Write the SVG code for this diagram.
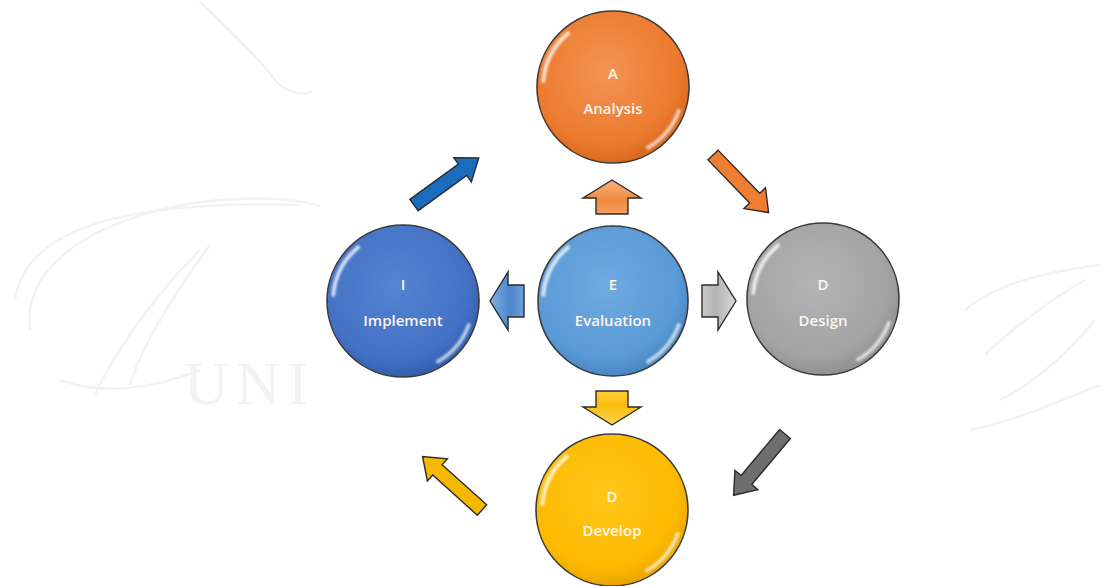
<svg xmlns="http://www.w3.org/2000/svg" xmlns:xlink="http://www.w3.org/1999/xlink" width="1103" height="586" viewBox="0 0 1103 586">
<style>
.lbl{font-family:"Open Sans","Liberation Sans",sans-serif;font-size:15px;font-weight:600;fill:#fdf6ee;text-anchor:middle}
.ring{stroke:#3a3a3a;stroke-width:1.6}
.wm{fill:none;stroke:#f0f4f0;stroke-width:2.5}
.arr{stroke:#2b2b2b;stroke-width:1.4;stroke-linejoin:miter}
</style>
<defs>
<radialGradient id="gA" cx="45%" cy="40%" r="60%"><stop offset="0" stop-color="#f39455"/><stop offset="0.8" stop-color="#ec7a2e"/><stop offset="1" stop-color="#d8691f"/></radialGradient>
<radialGradient id="gE" cx="45%" cy="40%" r="60%"><stop offset="0" stop-color="#70aae0"/><stop offset="0.8" stop-color="#5a9ad6"/><stop offset="1" stop-color="#4886c4"/></radialGradient>
<radialGradient id="gI" cx="45%" cy="40%" r="60%"><stop offset="0" stop-color="#5584d2"/><stop offset="0.8" stop-color="#4371c4"/><stop offset="1" stop-color="#345fae"/></radialGradient>
<radialGradient id="gD" cx="45%" cy="40%" r="60%"><stop offset="0" stop-color="#b4b4b4"/><stop offset="0.8" stop-color="#a3a3a3"/><stop offset="1" stop-color="#909090"/></radialGradient>
<radialGradient id="gV" cx="45%" cy="40%" r="60%"><stop offset="0" stop-color="#ffc61a"/><stop offset="0.8" stop-color="#fdba00"/><stop offset="1" stop-color="#eaa500"/></radialGradient>
<linearGradient id="sUp" x1="0" y1="0" x2="0" y2="1"><stop offset="0" stop-color="#f7b27a"/><stop offset="0.6" stop-color="#f0883f"/><stop offset="1" stop-color="#f4a060"/></linearGradient>
<linearGradient id="sL" x1="0" y1="0" x2="0" y2="1"><stop offset="0" stop-color="#7eaee0"/><stop offset="0.6" stop-color="#4d86cc"/><stop offset="1" stop-color="#6f9fd8"/></linearGradient>
<linearGradient id="sR" x1="0" y1="0" x2="0" y2="1"><stop offset="0" stop-color="#d9d9d9"/><stop offset="0.6" stop-color="#b2b2b2"/><stop offset="1" stop-color="#c9c9c9"/></linearGradient>
<linearGradient id="sD" x1="0" y1="0" x2="0" y2="1"><stop offset="0" stop-color="#ffd54a"/><stop offset="0.6" stop-color="#fbbd10"/><stop offset="1" stop-color="#ffcf3a"/></linearGradient>
<filter id="soft" x="-20%" y="-20%" width="140%" height="140%"><feGaussianBlur stdDeviation="1.2"/></filter>
<g id="gloss" filter="url(#soft)" fill="none" stroke="#ffffff" stroke-linecap="round">
<path d="M -69.7 -6.1 A 70 70 0 0 1 -45 -53.6" stroke-width="4" stroke-opacity="0.75"/>
<path d="M 65.8 23.9 A 70 70 0 0 1 35 60.6" stroke-width="4" stroke-opacity="0.65"/>
</g>
<path id="small" d="M 0 0 L 29 18 L 16 18 L 16 34 L -16 34 L -16 18 L -29 18 Z"/>
<path id="diag" d="M 0 -7 L 60 -7 L 60 -15 L 80 0 L 60 15 L 60 7 L 0 7 Z"/>
</defs>
<rect width="1103" height="586" fill="#ffffff"/>
<g id="watermark">
<path class="wm" d="M 200 2 C 230 30 260 60 275 80 C 285 92 300 96 312 92"/>
<path class="wm" d="M 30 330 C 20 260 110 210 220 200 C 270 196 300 200 320 206"/>
<path class="wm" d="M 15 300 C 25 230 120 200 300 205"/>
<path class="wm" d="M 200 250 C 150 300 110 360 95 395 M 210 245 C 170 300 140 350 130 385"/>
<path class="wm" d="M 60 380 C 100 395 150 390 200 370"/>
<path class="wm" d="M 965 310 C 1000 280 1060 270 1100 265 M 985 355 C 1010 330 1050 300 1085 280 M 1000 400 C 1040 380 1070 350 1095 320 M 970 430 C 1020 420 1060 400 1100 385"/>
<text x="184" y="404" font-family="'Liberation Serif',serif" font-size="62" fill="#f0f3f0" letter-spacing="7">UNI</text>
</g>
<g id="connectors">
<use href="#diag" transform="translate(414 205) rotate(-36)" fill="#1a6cbf" class="arr"/>
<use href="#diag" transform="translate(713 155) rotate(46)" fill="#ef7d32" class="arr"/>
<use href="#diag" transform="translate(785 434) rotate(130)" fill="#6e6e6e" class="arr"/>
<use href="#diag" transform="translate(482 510) rotate(222)" fill="#f5b800" class="arr"/>
<use href="#small" transform="translate(612 180)" fill="url(#sUp)" class="arr"/>
<use href="#small" transform="translate(490 301) rotate(-90)" fill="url(#sL)" class="arr"/>
<use href="#small" transform="translate(736 301) rotate(90)" fill="url(#sR)" class="arr"/>
<use href="#small" transform="translate(612 425) rotate(180)" fill="url(#sD)" class="arr"/>
</g>
<g id="node-analysis">
<circle cx="613" cy="87" r="76" fill="url(#gA)" class="ring"/>
<use href="#gloss" transform="translate(613 87)"/>
<text class="lbl" x="613" y="79">A</text>
<text class="lbl" x="613" y="114">Analysis</text>
</g>
<g id="node-evaluation">
<circle cx="613" cy="301" r="75" fill="url(#gE)" class="ring"/>
<use href="#gloss" transform="translate(613 301)"/>
<text class="lbl" x="613" y="290">E</text>
<text class="lbl" x="613" y="326">Evaluation</text>
</g>
<g id="node-implement">
<circle cx="403" cy="301" r="76" fill="url(#gI)" class="ring"/>
<use href="#gloss" transform="translate(403 301)"/>
<text class="lbl" x="403" y="290">I</text>
<text class="lbl" x="403" y="326">Implement</text>
</g>
<g id="node-design">
<circle cx="823" cy="299" r="76" fill="url(#gD)" class="ring"/>
<use href="#gloss" transform="translate(823 299)"/>
<text class="lbl" x="823" y="290">D</text>
<text class="lbl" x="823" y="326">Design</text>
</g>
<g id="node-develop">
<circle cx="612" cy="510" r="76" fill="url(#gV)" class="ring"/>
<use href="#gloss" transform="translate(612 510)"/>
<text class="lbl" x="612" y="502">D</text>
<text class="lbl" x="612" y="536">Develop</text>
</g>
</svg>
